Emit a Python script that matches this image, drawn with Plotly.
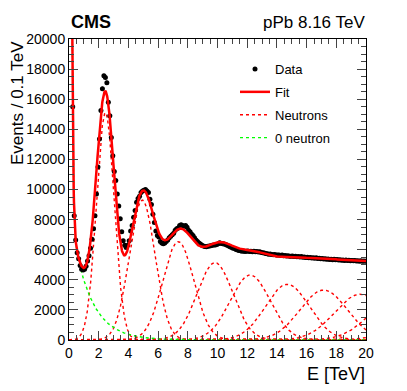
import numpy as np
import plotly.graph_objects as go

# Data: events per 0.1 TeV bin, bin centres 0.05 ... 19.95 TeV
bin_width = 0.1
data_counts = [
    90000, 26000, 15500, 8250, 6650, 5800, 5400, 4950, 4700, 4650,
    4700, 4900, 5250, 5600, 6100, 6700, 7400, 8250, 9700, 11500,
    13350, 15250, 16700, 17550, 17450, 17100, 15800, 14900, 13450, 12250,
    11200, 10600, 9700, 8900, 8050, 7200, 6600, 6300, 6150, 6300,
    6600, 7250, 7600, 8150, 8600, 9150, 9400, 9550, 9800, 9900,
    9950, 10000, 9900, 9800, 9350, 9000, 8350, 7800, 7250, 6950,
    6850, 6550, 6450, 6400, 6450, 6550, 6650, 6800, 6900, 7000,
    7100, 7300, 7400, 7450, 7600, 7650, 7600, 7550, 7600, 7500,
    7300, 7200, 7050, 6950, 6800, 6650, 6550, 6450, 6380, 6300,
    6250, 6220, 6200, 6230, 6250, 6270, 6300, 6320, 6310, 6350,
    6400, 6470, 6420, 6400, 6380, 6350, 6300, 6250, 6200, 6150,
    6100, 6080, 6020, 5980, 5950, 5930, 5900, 5920, 5880, 5900,
    5920, 5880, 5900, 5870, 5890, 5860, 5880, 5850, 5870, 5820,
    5800, 5780, 5750, 5730, 5700, 5710, 5680, 5660, 5680, 5650,
    5640, 5650, 5620, 5640, 5600, 5610, 5580, 5600, 5570, 5560,
    5580, 5540, 5560, 5530, 5550, 5520, 5540, 5500, 5520, 5480,
    5500, 5470, 5490, 5450, 5470, 5440, 5460, 5420, 5440, 5400,
    5420, 5380, 5400, 5370, 5390, 5350, 5370, 5340, 5360, 5330,
    5350, 5310, 5330, 5300, 5320, 5290, 5310, 5280, 5300, 5270,
    5290, 5260, 5280, 5250, 5270, 5240, 5260, 5230, 5250, 5230,
]

# Fit components
# n-neutron peaks (Gaussians): centre [TeV], width [TeV], height [events]
peak_centers = [2.45, 4.93, 7.36, 9.83, 12.2, 14.7, 17.15, 19.6, 22.05, 24.5]
peak_widths = [0.6, 0.87, 1.04, 1.2, 1.34, 1.47, 1.59, 1.70, 1.80, 1.90]
peak_heights = [15100, 9300, 6530, 5140, 4320, 3700, 3320, 3040, 2800, 2600]
# 0 neutron: two falling exponentials, amplitude [events], slope [TeV]
zero_amps = [330000, 8720]
zero_slopes = [0.068, 1.27]

x_data = np.arange(len(data_counts)) * bin_width + bin_width / 2
y_data = np.array(data_counts, dtype=float)

e = np.linspace(0.0, 20.0, 1201)
neutrons = [h * np.exp(-0.5 * ((e - c) / s) ** 2)
            for c, s, h in zip(peak_centers, peak_widths, peak_heights)]
zero_n = sum(a * np.exp(-e / t) for a, t in zip(zero_amps, zero_slopes))
fit = zero_n + np.sum(neutrons, axis=0)

# the page sits 8 px in from the window edge (default body margin)
W, H = 407, 391
OFF = 8
# plot area on screen: x 69..366, y 39..340
PX0, PX1, PY0, PY1 = 69, 366, 39, 340


def px_x(p):
    return (p - PX0) / (PX1 - PX0)


def px_y(p):
    return (PY1 - p) / (PY1 - PY0)


FONT = "Liberation Sans, Arial, sans-serif"

fig = go.Figure()

for i, yn in enumerate(neutrons):
    fig.add_trace(go.Scatter(
        x=e, y=yn, mode="lines", name="Neutrons",
        line=dict(color="#ff0000", width=1.4, dash="dot"),
        legendgroup="neutrons", showlegend=(i == 0), legendrank=3,
    ))

fig.add_trace(go.Scatter(
    x=e, y=zero_n, mode="lines", name="0 neutron",
    line=dict(color="#00ff00", width=1.4, dash="dot"),
    legendgroup="zero", legendrank=4,
))

fig.add_trace(go.Scatter(
    x=x_data, y=y_data, mode="markers", name="Data",
    marker=dict(color="black", size=5),
    error_y=dict(type="data", array=np.sqrt(y_data), color="black",
                 thickness=1, width=0),
    legendgroup="data", legendrank=1,
))

fig.add_trace(go.Scatter(
    x=e, y=fit, mode="lines", name="Fit",
    line=dict(color="#ff0000", width=2.5),
    legendgroup="fit", legendrank=2,
))

axis_common = dict(
    showgrid=False, zeroline=False, automargin=False,
    showline=True, linecolor="black", linewidth=1,
    mirror="allticks", ticks="inside", tickcolor="#444",
    tickfont=dict(family=FONT, size=14, color="black"),
)

fig.update_xaxes(
    range=[0, 20], dtick=2, tick0=0, ticklen=9,
    minor=dict(ticks="inside", dtick=0.5, ticklen=5, tickcolor="#444"),
    **axis_common,
)
fig.update_yaxes(
    range=[0, 20000], dtick=2000, tick0=0, ticklen=9, tickformat="d",
    minor=dict(ticks="inside", dtick=500, ticklen=5, tickcolor="#444"),
    **axis_common,
)

fig.add_annotation(x=px_x(69), y=px_y(34), xref="paper", yref="paper",
                   text="<b>CMS</b>", showarrow=False, xanchor="left", yanchor="bottom",
                   font=dict(family=FONT, size=18, color="black"))
fig.add_annotation(x=px_x(367), y=px_y(34), xref="paper", yref="paper",
                   text="pPb 8.16 TeV", showarrow=False, xanchor="right", yanchor="bottom",
                   font=dict(family=FONT, size=17, color="black"))
fig.add_annotation(x=px_x(367), y=px_y(386), xref="paper", yref="paper",
                   text="E [TeV]", showarrow=False, xanchor="right", yanchor="bottom",
                   font=dict(family=FONT, size=18, color="black"))
fig.add_annotation(x=px_x(17), y=px_y(39), xref="paper", yref="paper",
                   text="Events / 0.1 TeV", showarrow=False, textangle=-90,
                   xanchor="center", yanchor="top",
                   font=dict(family=FONT, size=17, color="black"))

fig.update_layout(
    width=W, height=H,
    margin=dict(l=PX0 - OFF, r=W - PX1 + OFF, t=PY0 - OFF, b=H - PY1 + OFF, pad=0),
    plot_bgcolor="white", paper_bgcolor="white",
    font=dict(family=FONT, color="black"),
    legend=dict(x=px_x(235), y=px_y(54), xanchor="left", yanchor="top",
                bgcolor="rgba(0,0,0,0)", font=dict(family=FONT, size=13),
                tracegroupgap=3, itemwidth=30),
)

fig.write_html("out.html")
